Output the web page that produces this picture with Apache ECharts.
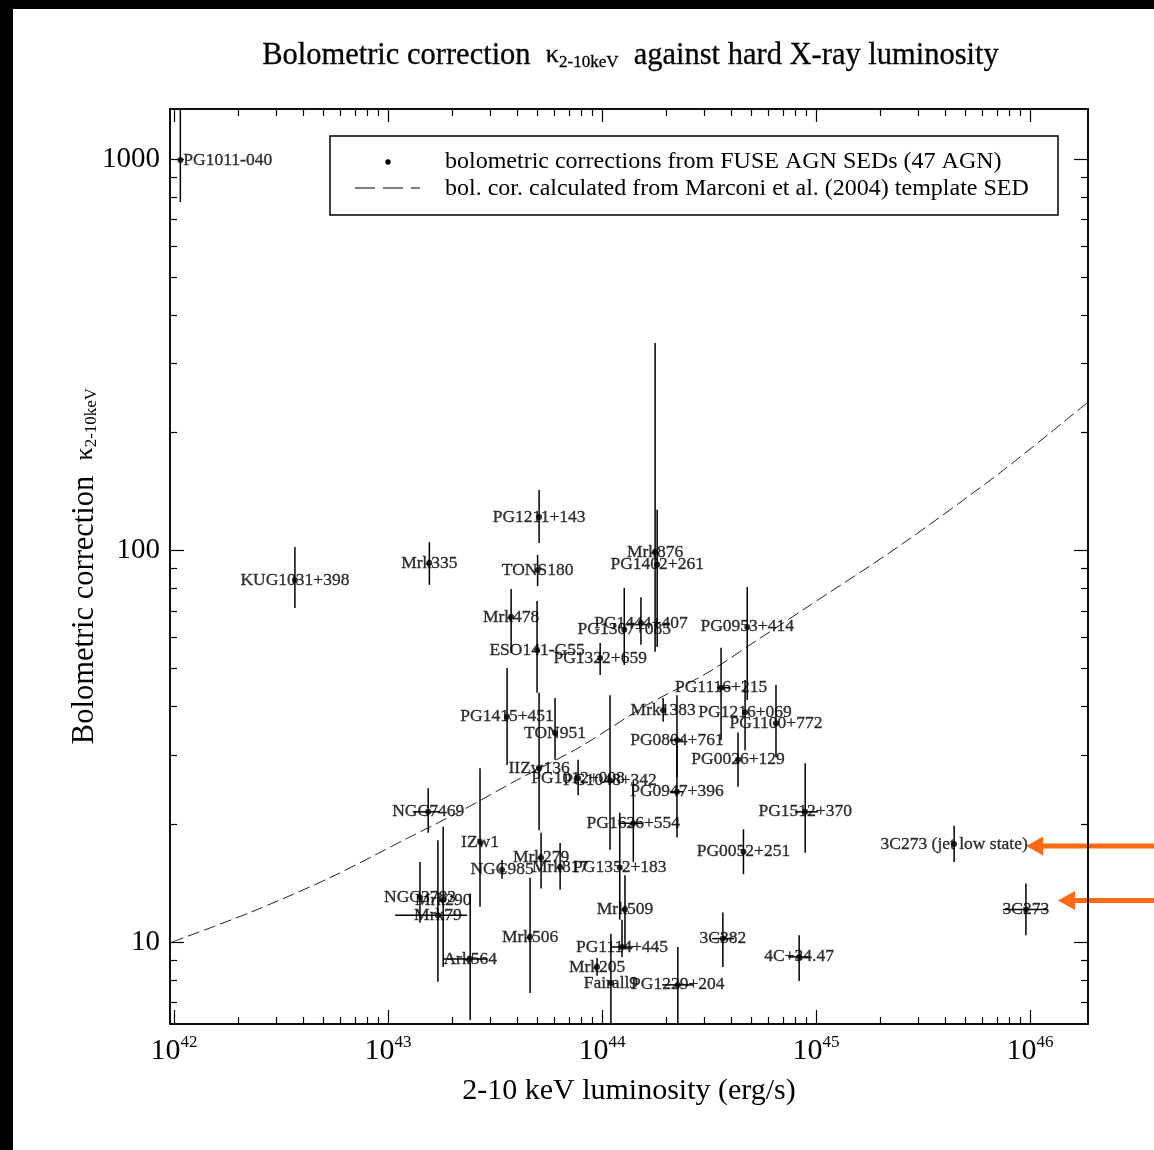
<!DOCTYPE html>
<html>
<head>
<meta charset="utf-8">
<title>Bolometric correction against hard X-ray luminosity</title>
<script src="https://cdn.jsdelivr.net/npm/echarts@6/dist/echarts.min.js"></script>
<style>
  html, body { margin: 0; padding: 0; background: #fff; }
  #chart { width: 1154px; height: 1150px; }
</style>
</head>
<body>
<div id="chart"></div>
<script>
// ---- data: FUSE AGN sample ------------------------------------------------
const agnNames = [
  'PG1011-040', 'KUG1031+398', 'Mrk335', 'PG1211+143', 'TONS180', 'Mrk876',
  'PG1402+261', 'Mrk478', 'PG1444+407', 'PG1307+085', 'PG0953+414', 'ESO141-G55',
  'PG1322+659', 'PG1116+215', 'Mrk1383', 'PG1216+069', 'PG1100+772', 'PG1415+451',
  'TON951', 'PG0804+761', 'PG0026+129', 'IIZw136', 'PG1012+008', 'PG1048+342',
  'PG0947+396', 'NGC7469', 'PG1512+370', 'PG1626+554', 'IZw1', '3C273 (jet low state)',
  'NGC985', 'Mrk279', 'Mrk817', 'PG1352+183', 'PG0052+251', 'NGC3783',
  'Mrk290', 'Mrk79', '3C273', 'Mrk509', 'Mrk506', '3C382',
  'PG1114+445', '4C+34.47', 'Ark564', 'Mrk205', 'Fairall9', 'PG1229+204'
];
// 2-10 keV luminosity (erg/s)
const lumX = [
  1.07e42, 3.67e42, 1.56e43, 5.08e43, 5.0e43, 1.77e44,
  1.81e44, 3.76e43, 1.52e44, 1.27e44, 4.77e44, 4.97e43,
  9.8e43, 3.6e44, 1.93e44, 4.66e44, 6.5e44, 3.6e43,
  6.03e43, 2.24e44, 4.32e44, 5.08e43, 7.73e43, 1.09e44,
  2.24e44, 1.54e43, 8.9e44, 1.40e44, 2.69e43, 4.42e45,
  3.41e43, 5.19e43, 6.37e43, 1.21e44, 4.58e44, 1.41e43,
  1.81e43, 1.71e43, 9.57e45, 1.28e44, 4.61e43, 3.67e44,
  1.24e44, 8.34e44, 2.42e43, 9.48e43, 1.10e44, 2.26e44
];
// bolometric correction kappa(2-10 keV)
const kappa = [
  994, 84.1, 92.9, 121.8, 89.1, 99.1,
  91.9, 67.6, 65.3, 62.7, 63.8, 55.7,
  53.1, 44.6, 39.1, 38.6, 36.2, 37.6,
  34.2, 32.8, 29.2, 27.8, 26.2, 25.9,
  24.2, 21.5, 21.5, 20.1, 18.0, 17.8,
  15.3, 16.4, 15.55, 15.5, 17.0, 13.0,
  12.8, 11.7, 12.1, 12.1, 10.3, 10.2,
  9.71, 9.16, 9.05, 8.63, 7.86, 7.77
];
const kappaLow = [
  776, 71.3, 81.7, 104.5, 81.1, 55.1,
  56.7, 54.7, 57.4, 51.0, 41.5, 43.3,
  48.1, 32.8, 36.5, 30.9, 29.7, 28.3,
  29.2, 26.4, 24.9, 19.3, 23.7, 17.2,
  18.5, 19.0, 16.9, 16.0, 12.3, 16.0,
  14.5, 13.7, 13.6, 11.4, 14.9, 11.2,
  8.63, 7.91, 10.4, 9.71, 7.41, 8.63,
  9.16, 7.95, 6.32, 8.2, 6.0, 6.0
];
const kappaHigh = [
  1400, 102, 105, 142.7, 97.4, 339,
  127, 79.7, 76.0, 80.2, 80.7, 74.3,
  58.0, 56.4, 42.0, 46.7, 45.3, 50.1,
  42.0, 42.7, 34.3, 43.3, 29.2, 42.7,
  31.8, 24.7, 28.6, 25.9, 27.8, 19.8,
  16.2, 19.0, 17.9, 21.4, 19.4, 16.0,
  19.7, 18.2, 14.1, 14.8, 14.6, 11.9,
  11.4, 10.4, 13.3, 9.1, 10.5, 9.71
];
// luminosity range (only where a horizontal bar is drawn)
const lumLow = [
  null, null, null, null, null, null,
  null, null, null, null, null, null,
  null, 3.44e44, null, null, null, null,
  null, 2.08e44, null, null, null, null,
  2.08e44, 1.31e43, 7.98e44, 1.21e44, null, null,
  null, null, null, null, null, null,
  null, 1.08e43, 7.48e45, null, null, 3.27e44,
  1.09e44, 7.4e44, 1.81e43, null, null, 1.91e44
];
const lumHigh = [
  null, null, null, null, null, null,
  null, null, null, null, null, null,
  null, 3.96e44, null, null, null, null,
  null, 2.39e44, null, null, null, null,
  2.39e44, 1.75e43, 1.02e45, 1.56e44, null, null,
  null, null, null, null, null, null,
  null, 2.34e43, 1.21e46, null, null, 4.14e44,
  1.40e44, 9.38e44, 2.9e43, null, null, 2.66e44
];

// Marconi et al. (2004) template-SED bolometric correction
const marconiLum = [9.8e41, 2.27e42, 5.36e42, 1.23e43, 2.12e43, 4.0e43, 7.9e43,
                    1.62e44, 3.09e44, 5.3e44, 9.1e44, 2.47e45, 7.24e45, 1.86e46];
const marconiKappa = [10.0, 11.9, 14.6, 18.4, 21.4, 25.9, 31.5,
                      40.3, 48.6, 59.0, 71.7, 103, 158, 239];

// axis ticks and labels
const xMajorTicks = [1e42, 1e43, 1e44, 1e45, 1e46];
const yMajorTicks = [10, 100, 1000];

// ---- chart ----------------------------------------------------------------
const SERIF = '"Liberation Serif", "Times New Roman", "DejaVu Serif", serif';
const X_MIN = Math.pow(10, 41.981), X_MAX = Math.pow(10, 46.271);
const Y_MIN = Math.pow(10, 0.7905), Y_MAX = Math.pow(10, 3.1277);

function minorTicks(lo, hi) {
  const out = [];
  for (let d = Math.floor(Math.log10(lo)); d <= Math.ceil(Math.log10(hi)); d++) {
    for (let k = 2; k <= 9; k++) {
      const v = k * Math.pow(10, d);
      if (v >= lo && v <= hi) out.push(v);
    }
  }
  return out;
}
const xMinorTicks = minorTicks(X_MIN, X_MAX);
const yMinorTicks = minorTicks(Y_MIN, Y_MAX);

const GRID = { left: 170, right: 66, top: 109, bottom: 126, outerBoundsMode: 'none' };
const lineStyle = { color: '#000', width: 1.5 };

function xAxisFor(grid, position, ticks, len, withLabels) {
  return {
    type: 'log', gridIndex: grid, position: position, min: X_MIN, max: X_MAX,
    axisLine: { show: true, onZero: false, lineStyle: lineStyle },
    axisTick: { show: true, inside: true, length: len, customValues: ticks,
                lineStyle: { color: '#000', width: 1.2 } },
    axisLabel: withLabels ? {
      show: true, customValues: xMajorTicks, margin: 10,
      formatter: v => '{b|10}{s|' + Math.round(Math.log10(v)) + '}',
      rich: {
        b: { fontFamily: SERIF, fontSize: 30, color: '#000', lineHeight: 34 },
        s: { fontFamily: SERIF, fontSize: 17, color: '#000', verticalAlign: 'top', lineHeight: 20 }
      }
    } : { show: false },
    splitLine: { show: false }, minorTick: { show: false }, minorSplitLine: { show: false }
  };
}
function yAxisFor(grid, position, ticks, len, withLabels) {
  return {
    type: 'log', gridIndex: grid, position: position, min: Y_MIN, max: Y_MAX,
    axisLine: { show: true, onZero: false, lineStyle: lineStyle },
    axisTick: { show: true, inside: true, length: len, customValues: ticks,
                lineStyle: { color: '#000', width: 1.2 } },
    axisLabel: withLabels ? {
      show: true, customValues: yMajorTicks, margin: 10,
      formatter: v => String(Math.round(v)),
      fontFamily: SERIF, fontSize: 29, color: '#000'
    } : { show: false },
    splitLine: { show: false }, minorTick: { show: false }, minorSplitLine: { show: false }
  };
}

const points = agnNames.map((n, i) => {
  const item = { name: n, value: [lumX[i], kappa[i]] };
  if (n === 'PG1011-040') {
    item.label = { position: 'right', distance: 0, offset: [0, -4] };
  }
  return item;
});
const bars = agnNames.map((n, i) => ({
  name: n,
  value: [lumX[i], kappa[i], kappaLow[i], kappaHigh[i],
          lumLow[i] == null ? NaN : lumLow[i], lumHigh[i] == null ? NaN : lumHigh[i]]
}));
const curve = marconiLum.map((l, i) => [l, marconiKappa[i]]);

function renderBar(params, api) {
  const x = api.value(0), y = api.value(1);
  const top = api.coord([x, api.value(3)]);
  const bot = api.coord([x, api.value(2)]);
  const st = { stroke: '#000', lineWidth: 1.5 };
  const children = [{ type: 'line', shape: { x1: top[0], y1: top[1], x2: bot[0], y2: bot[1] }, style: st }];
  const xl = api.value(4), xh = api.value(5);
  if (!isNaN(xl) && !isNaN(xh)) {
    const l = api.coord([xl, y]), r = api.coord([xh, y]);
    children.push({ type: 'line', shape: { x1: l[0], y1: l[1], x2: r[0], y2: r[1] }, style: st });
  }
  return { type: 'group', children: children };
}

const kappaRich = {
  a: { fontFamily: SERIF, fontSize: 30.5, fill: '#000' },
  k: { fontFamily: SERIF, fontSize: 26, fill: '#000' },
  u: { fontFamily: SERIF, fontSize: 17, fill: '#000', verticalAlign: 'bottom' }
};

const baseGraphics = [
  // title
  { id: 'title', type: 'text', left: 262, top: 40, z: 10,
    style: {
      text: '{a|Bolometric correction  }{k|κ}{u|2-10keV}{a|  against hard X-ray luminosity}',
      rich: kappaRich, stroke: '#000', lineWidth: 0.3
    } },
  // y-axis title
  { id: 'ytitle', type: 'text', x: 85, y: 566, rotation: Math.PI / 2, z: 10,
    style: {
      text: '{a|Bolometric correction  }{k|κ}{u|2-10keV}',
      align: 'center', verticalAlign: 'middle', rich: kappaRich
    } },
  // legend box
  { id: 'legendBox', type: 'rect', shape: { x: 330, y: 136, width: 728, height: 79 }, z: 20,
    style: { fill: '#fff', stroke: '#000', lineWidth: 1.5 } },
  { id: 'legendDot', type: 'circle', shape: { cx: 388, cy: 162, r: 2.7 }, z: 21, style: { fill: '#000' } },
  { id: 'legendDash', type: 'line', shape: { x1: 355, y1: 188, x2: 420, y2: 188 }, z: 21,
    style: { stroke: '#000', lineWidth: 1.2, lineDash: [20, 8] } },
  { id: 'legendText1', type: 'text', x: 445, y: 162, z: 21,
    style: { text: 'bolometric corrections from FUSE AGN SEDs (47 AGN)', fontFamily: SERIF,
             fontSize: 24, fill: '#000', verticalAlign: 'middle' } },
  { id: 'legendText2', type: 'text', x: 445, y: 189, z: 21,
    style: { text: 'bol. cor. calculated from Marconi et al. (2004) template SED', fontFamily: SERIF,
             fontSize: 24, fill: '#000', verticalAlign: 'middle' } },
  // frame edges of the page
  { id: 'edgeTop', type: 'rect', shape: { x: 0, y: 0, width: 1154, height: 9 }, z: 50, style: { fill: '#000' } },
  { id: 'edgeLeft', type: 'rect', shape: { x: 0, y: 0, width: 13, height: 1150 }, z: 50, style: { fill: '#000' } }
];

const chart = echarts.init(document.getElementById('chart'), null, { renderer: 'canvas' });
chart.setOption({
  backgroundColor: '#fff',
  animation: false,
  grid: [Object.assign({}, GRID), Object.assign({}, GRID), Object.assign({}, GRID), Object.assign({}, GRID)],
  xAxis: [
    Object.assign(xAxisFor(0, 'bottom', xMajorTicks, 14, true), {
      name: '2-10 keV luminosity (erg/s)', nameLocation: 'middle', nameGap: 52,
      nameTextStyle: { fontFamily: SERIF, fontSize: 30, color: '#000' }
    }),
    xAxisFor(1, 'bottom', xMinorTicks, 7, false),
    xAxisFor(2, 'top', xMajorTicks, 13, false),
    xAxisFor(3, 'top', xMinorTicks, 7, false)
  ],
  yAxis: [
    yAxisFor(0, 'left', yMajorTicks, 14, true),
    yAxisFor(1, 'left', yMinorTicks, 7, false),
    yAxisFor(2, 'right', yMajorTicks, 14, false),
    yAxisFor(3, 'right', yMinorTicks, 7, false)
  ],
  series: [
    {
      type: 'line', name: 'Marconi et al. (2004)', xAxisIndex: 0, yAxisIndex: 0,
      data: curve, smooth: 0.3, symbol: 'none', silent: true, z: 1,
      lineStyle: { color: '#222', width: 1, type: [12, 5] }
    },
    {
      type: 'custom', name: 'error bars', xAxisIndex: 0, yAxisIndex: 0,
      data: bars, renderItem: renderBar, clip: true, silent: true, z: 2,
      encode: { x: 0, y: 1 }
    },
    {
      type: 'scatter', name: 'FUSE AGN', xAxisIndex: 0, yAxisIndex: 0,
      data: points, symbol: 'circle', symbolSize: 6, z: 3,
      itemStyle: { color: '#000' },
      label: {
        show: true, position: 'inside', offset: [0, -6], formatter: '{b}',
        fontFamily: SERIF, fontSize: 17.5, color: '#000',
        textBorderColor: '#000', textBorderWidth: 0.35
      },
      labelLayout: { hideOverlap: false }
    }
  ],
  graphic: baseGraphics
});

// arrows pointing at the two 3C273 labels
const ORANGE = '#ff6a13';
function arrow(id, tipX, tipY) {
  return {
    id: id, type: 'group', z: 40,
    children: [
      { type: 'line', shape: { x1: tipX + 12, y1: tipY, x2: 1154, y2: tipY },
        style: { stroke: ORANGE, lineWidth: 5 } },
      { type: 'polygon', shape: { points: [[tipX, tipY], [tipX + 17, tipY - 9.5], [tipX + 17, tipY + 9.5]] },
        style: { fill: ORANGE } }
    ]
  };
}
const iJet = agnNames.indexOf('3C273 (jet low state)');
const iQ = agnNames.indexOf('3C273');
const pJet = chart.convertToPixel({ gridIndex: 0 }, [lumX[iJet], kappa[iJet]]);
const pQ = chart.convertToPixel({ gridIndex: 0 }, [lumX[iQ], kappa[iQ]]);
chart.setOption({
  graphic: baseGraphics.concat([
    arrow('arrowJet', pJet[0] + 72, pJet[1] + 2),
    arrow('arrow3C273', pQ[0] + 32, pQ[1] - 9)
  ])
});
</script>
</body>
</html>
